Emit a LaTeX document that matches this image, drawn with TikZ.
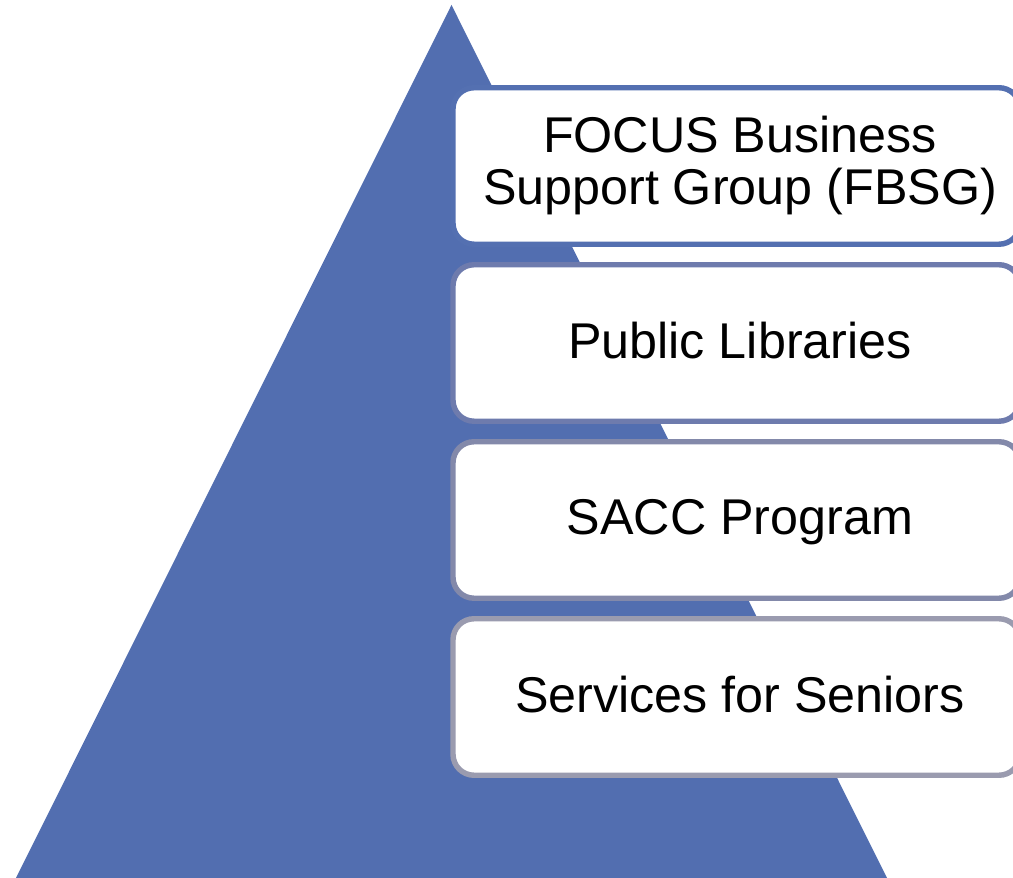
\documentclass[tikz,border=0pt]{standalone}
\usepackage{fontspec}
\setmainfont{Liberation Sans}
\definecolor{pyrBlue}{HTML}{526EB0}
\definecolor{tierA}{HTML}{5470B1}
\definecolor{tierB}{HTML}{6E7BAD}
\definecolor{tierC}{HTML}{8389AA}
\definecolor{tierD}{HTML}{9A9BAF}

\begin{document}
\begin{tikzpicture}[
    tier/.style={draw=#1, fill=white, rounded corners=0.42cm, line width=3.1pt, minimum width=11.34cm, minimum height=3.13cm, inner sep=0pt},
    tiertext/.style={font=\fontsize{28.6}{29.6}\selectfont, align=center, inner sep=0pt}
]
\useasboundingbox (0,0) rectangle (20.26,17.56);
\fill[pyrBlue] (0.32,0) -- (9.03,17.46) -- (17.74,0) -- cycle;

\node[tier=tierA] (t1) at (14.73,14.24) {};
\node[tier=tierB] (t2) at (14.73,10.70) {};
\node[tier=tierC] (t3) at (14.73,7.16) {};
\node[tier=tierD] (t4) at (14.73,3.62) {};

\node[tiertext] (fbsg) at ([xshift=0.07cm]t1.center) {FOCUS Business\\Support Group (FBSG)};
\node[tiertext] (libs) at ([xshift=0.07cm,yshift=0.05cm]t2.center) {Public Libraries};
\node[tiertext] (sacc) at ([xshift=0.07cm,yshift=-0.05cm]t3.center) {SACC Program};
\node[tiertext] (senior) at ([xshift=0.07cm,yshift=0.05cm]t4.center) {Services for Seniors};
\end{tikzpicture}
\end{document}
